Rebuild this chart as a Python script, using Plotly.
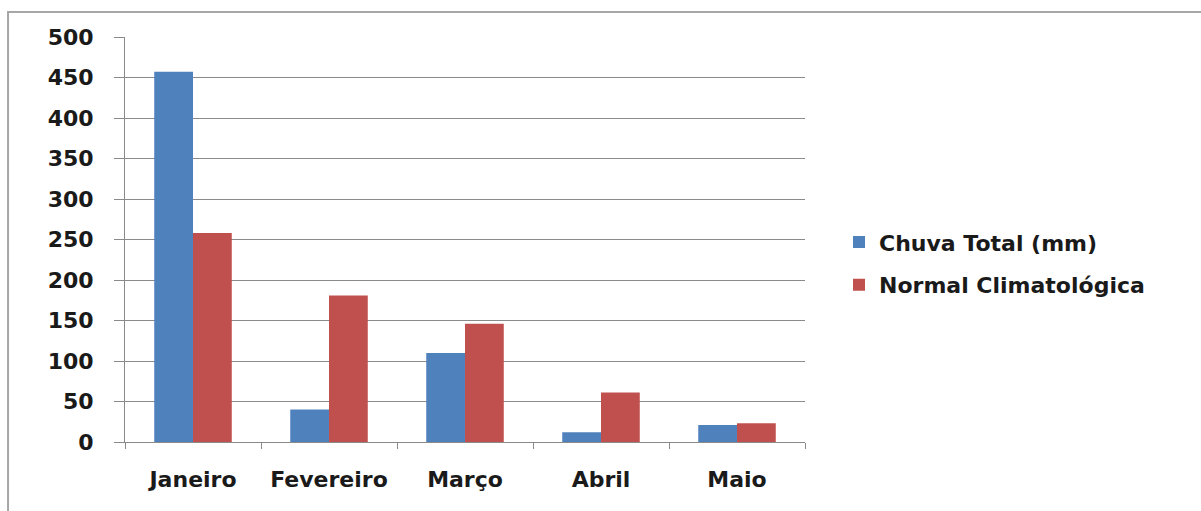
import plotly.graph_objects as go

# Monthly rainfall compared with the climatological normal
meses = ["Janeiro", "Fevereiro", "Março", "Abril", "Maio"]
chuva_total = [457, 40, 110, 12, 21]
normal_climatologica = [258, 181, 146, 61, 23]
y_ticks = [0, 50, 100, 150, 200, 250, 300, 350, 400, 450, 500]

FONT = "DejaVu Sans"
TEXT = "#1a1a1a"
GRID = "#8a8a8a"
SIZE = 22

fig = go.Figure()
fig.add_trace(go.Bar(
    x=meses, y=chuva_total, name="Chuva Total (mm)",
    marker=dict(color="#4F81BD", line=dict(width=0)),
    legendgroup="a",
))
fig.add_trace(go.Bar(
    x=meses, y=normal_climatologica, name="Normal Climatológica",
    marker=dict(color="#C0504D", line=dict(width=0)),
    legendgroup="b",
))

fig.update_layout(
    width=1201, height=511,
    margin=dict(l=125, r=396, t=37, b=69),
    paper_bgcolor="white", plot_bgcolor="white",
    barmode="group", bargap=0.43, bargroupgap=0,
    font=dict(family=FONT, size=SIZE, color=TEXT),
    showlegend=True,
    legend=dict(
        x=1.05, xanchor="left", y=0.44, yanchor="middle",
        font=dict(family=FONT, size=SIZE, color=TEXT, weight="bold"),
        tracegroupgap=11, traceorder="grouped",
        bgcolor="rgba(0,0,0,0)",
    ),
    xaxis=dict(
        type="category",
        showline=True, linecolor=GRID, linewidth=1,
        ticks="outside", ticklen=6, tickcolor=GRID, tickwidth=1,
        tickson="boundaries",
        showgrid=False,
        tickfont=dict(family=FONT, size=SIZE, color=TEXT, weight="bold"),
        ticklabelstandoff=18,
    ),
    yaxis=dict(
        range=[0, 500],
        tickvals=y_ticks,
        showline=True, linecolor=GRID, linewidth=1,
        showgrid=True, gridcolor=GRID, gridwidth=1,
        ticks="outside", ticklen=10, tickcolor=GRID, tickwidth=1,
        tickfont=dict(family=FONT, size=SIZE, color=TEXT, weight="bold"),
        ticklabelstandoff=16,
        zeroline=False,
    ),
    shapes=[
        # chart frame, running past the right and bottom edges of the page
        dict(type="rect", xref="paper", yref="paper",
             x0=-0.172, x1=1.7, y0=-0.3, y1=1.0617,
             line=dict(color="#a6a6a6", width=2), fillcolor="rgba(0,0,0,0)",
             layer="below"),
    ],
)

fig.write_html("out.html")
